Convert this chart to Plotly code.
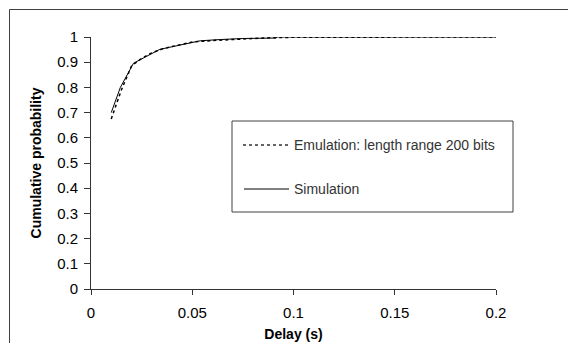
import plotly.graph_objects as go

# Data
sim_x = [0.01, 0.0145, 0.021, 0.034, 0.044, 0.054, 0.064, 0.075, 0.091, 0.092, 0.2]
sim_y = [0.70, 0.80, 0.896, 0.951, 0.968, 0.985, 0.990, 0.994, 0.996, 1.0, 1.0]

emu_x = [0.01, 0.012, 0.015, 0.02, 0.025, 0.03, 0.035, 0.04, 0.045, 0.05, 0.06, 0.07, 0.08, 0.09, 0.1, 0.2]
emu_y = [0.675, 0.72, 0.79, 0.885, 0.915, 0.937, 0.952, 0.962, 0.972, 0.980, 0.986, 0.991, 0.994, 0.997, 0.999, 1.0]

emu_name = "Emulation: length range 200 bits"
sim_name = "Simulation"
x_title = "Delay (s)"
y_title = "Cumulative probability"

FONT = "Liberation Sans, Arial, sans-serif"
AX = "#333333"

fig = go.Figure()
fig.add_trace(go.Scatter(x=emu_x, y=emu_y, mode="lines", name=emu_name,
                         line=dict(color="black", width=1.5, dash="dot")))
fig.add_trace(go.Scatter(x=sim_x, y=sim_y, mode="lines", name=sim_name,
                         line=dict(color="black", width=1)))

L, R, T, B = 91, 72, 37, 54
W, H = 568, 343
pw, ph = W - L - R, H - T - B


def px(x):
    return (x - L) / pw


def py(y):
    return (H - B - y) / ph


shapes = [
    # outer chart frame
    dict(type="rect", xref="paper", yref="paper", x0=px(9.5), x1=px(700), y0=py(9.5), y1=py(700),
         line=dict(color="#404040", width=1), fillcolor="rgba(0,0,0,0)", layer="below"),
    # legend box
    dict(type="rect", xref="paper", yref="paper", x0=px(232), x1=px(513), y0=py(121), y1=py(212),
         line=dict(color="#404040", width=1), fillcolor="white"),
    dict(type="line", xref="paper", yref="paper", x0=px(243), x1=px(289), y0=py(145), y1=py(145),
         line=dict(color="#333", width=1.3, dash="dot")),
    dict(type="line", xref="paper", yref="paper", x0=px(244), x1=px(289), y0=py(189), y1=py(189),
         line=dict(color="black", width=1)),
]

annotations = [
    dict(xref="paper", yref="paper", x=px(292), y=py(145), text=emu_name, showarrow=False,
         xanchor="left", yanchor="middle", font=dict(family=FONT, size=14, color="#333")),
    dict(xref="paper", yref="paper", x=px(292), y=py(189), text=sim_name, showarrow=False,
         xanchor="left", yanchor="middle", font=dict(family=FONT, size=14, color="#333")),
]

fig.update_layout(
    width=W, height=H,
    margin=dict(l=L, r=R, t=T, b=B, pad=0, autoexpand=False),
    paper_bgcolor="white", plot_bgcolor="white",
    showlegend=False,
    font=dict(family=FONT, size=15, color="black"),
    shapes=shapes,
    annotations=annotations,
    xaxis=dict(range=[0, 0.2], dtick=0.05, tick0=0, showgrid=False, zeroline=False,
               showline=True, linecolor=AX, linewidth=1, ticks="outside", ticklen=5,
               tickcolor=AX, tickfont=dict(size=15), ticklabelstandoff=5, automargin=False,
               title=dict(text="<b>" + x_title + "</b>", font=dict(size=14), standoff=9)),
    yaxis=dict(range=[0, 1], dtick=0.1, tick0=0, showgrid=False, zeroline=False,
               showline=True, linecolor=AX, linewidth=1, ticks="outside", ticklen=6,
               tickcolor=AX, tickfont=dict(size=15), ticklabelstandoff=3, automargin=False,
               title=dict(text="<b>" + y_title + "</b>", font=dict(size=14), standoff=12)),
)

fig.write_html("out.html")
